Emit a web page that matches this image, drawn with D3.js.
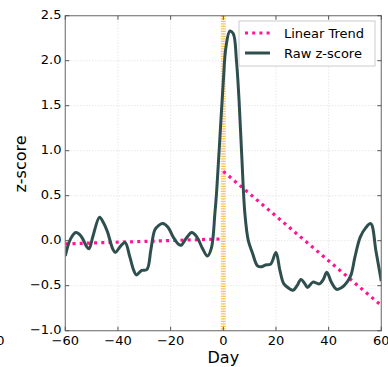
<!DOCTYPE html>
<html><head><meta charset="utf-8">
<script src="https://cdn.jsdelivr.net/npm/d3@7"></script>
<style>body{margin:0;background:#fff;} svg{display:block;font-family:"DejaVu Sans",sans-serif;}</style>
</head><body>
<svg id="c" width="388" height="367"></svg>
<script>
const days = [-60,-58,-56,-54,-52,-51,-49.5,-47,-45.5,-44,-42,-41,-39,-37.3,-35.5,-34,-33,-31,-29,-27.5,-26,-24.5,-23,-21,-19,-17,-16,-14,-12,-10,-8,-6,-4.5,-3.2,-2.5,-1.5,0,1,2.5,3.8,5,6,7,8.2,9.5,11,13,14.5,16,18,20,21.5,23,25,26.5,28,29.5,31,32,34,36.5,38,39.3,41,43,45,47,48.5,50,52,54,56,58,60];
const zscore = [-0.17,0.02,0.09,0.05,-0.06,-0.09,0.05,0.26,0.2,0.1,-0.09,-0.13,-0.06,-0.02,-0.18,-0.33,-0.38,-0.33,-0.32,-0.1,0.12,0.17,0.19,0.15,0.04,-0.04,-0.05,0.03,0.09,0.04,-0.08,-0.17,-0.08,0.3,0.56,1.04,1.77,2.15,2.33,2.3,2.0,1.55,0.95,0.3,0.0,-0.13,-0.28,-0.29,-0.27,-0.26,-0.13,-0.33,-0.48,-0.53,-0.55,-0.5,-0.43,-0.48,-0.52,-0.46,-0.48,-0.43,-0.35,-0.46,-0.54,-0.52,-0.46,-0.38,-0.18,0.04,0.14,0.19,-0.12,-0.45];
const trendPreDays = [-60, 0];
const trendPre = [-0.035, 0.02];
const trendPostDays = [0, 60];
const trendPost = [0.77, -0.72];
const xTicks = [-60,-40,-20,0,20,40,60];
const yTicks = [-1.0,-0.5,0.0,0.5,1.0,1.5,2.0,2.5];
const legendLabels = ["Linear Trend","Raw z-score"];

const svg = d3.select("#c");
const L=65.3,R=381.3,T=15.7,B=330.7;
const x = d3.scaleLinear().domain([-60,60]).range([L,R]);
const y = d3.scaleLinear().domain([-1,2.5]).range([B,T]);
const minus = s => s.replace("-","\u2212");

// grid
const g = svg.append("g");
g.selectAll(".gx").data(xTicks).join("line").attr("x1",d=>x(d)).attr("x2",d=>x(d)).attr("y1",T).attr("y2",B)
 .attr("stroke","#d4d4d4").attr("stroke-width",0.8).attr("stroke-dasharray","1,2");
g.selectAll(".gy").data(yTicks).join("line").attr("y1",d=>y(d)).attr("y2",d=>y(d)).attr("x1",L).attr("x2",R)
 .attr("stroke","#d4d4d4").attr("stroke-width",0.8).attr("stroke-dasharray","1,2");

// orange vertical line at day 0
svg.append("line").attr("x1",x(0)).attr("x2",x(0)).attr("y1",T).attr("y2",B)
 .attr("stroke","#ffa500").attr("stroke-opacity",0.65).attr("stroke-width",5).attr("stroke-dasharray","1.2,1.3");

const line = d3.line().x(d=>x(d[0])).y(d=>y(d[1]));
const dotted = {stroke:"#ff1493", w:3.2, dash:"3,4.2"};
svg.append("path").datum(d3.zip(trendPreDays,trendPre)).attr("d",line).attr("fill","none")
 .attr("stroke",dotted.stroke).attr("stroke-width",dotted.w).attr("stroke-dasharray",dotted.dash);
svg.append("path").datum(d3.zip(trendPostDays,trendPost)).attr("d",line).attr("fill","none")
 .attr("stroke",dotted.stroke).attr("stroke-width",dotted.w).attr("stroke-dasharray",dotted.dash);

const smooth = d3.line().x(d=>x(d[0])).y(d=>y(d[1])).curve(d3.curveCatmullRom.alpha(0.5));
svg.append("clipPath").attr("id","clip").append("rect").attr("x",L).attr("y",T).attr("width",R-L).attr("height",B-T);
svg.append("path").datum(d3.zip(days,zscore)).attr("d",smooth).attr("fill","none").attr("clip-path","url(#clip)")
 .attr("stroke","#2f4f4f").attr("stroke-width",3).attr("stroke-linejoin","round");

// frame
svg.append("rect").attr("x",L).attr("y",T).attr("width",R-L).attr("height",B-T).attr("fill","none").attr("stroke","#808080").attr("stroke-width",1.2);

// ticks (inside, all sides)
const tk = svg.append("g").attr("stroke","#555").attr("stroke-width",1);
xTicks.forEach(d=>{
  tk.append("line").attr("x1",x(d)).attr("x2",x(d)).attr("y1",B).attr("y2",B-4);
  tk.append("line").attr("x1",x(d)).attr("x2",x(d)).attr("y1",T).attr("y2",T+4);
});
yTicks.forEach(d=>{
  tk.append("line").attr("y1",y(d)).attr("y2",y(d)).attr("x1",L).attr("x2",L+4);
  tk.append("line").attr("y1",y(d)).attr("y2",y(d)).attr("x1",R).attr("x2",R-4);
});

// tick labels
svg.selectAll(".xl").data(xTicks).join("text").attr("x",d=>x(d)).attr("y",344.5).attr("text-anchor","middle")
 .attr("font-size",13).attr("fill","#000").text(d=>minus(String(d)));
svg.selectAll(".yl").data(yTicks).join("text").attr("x",61.5).attr("y",d=>y(d)+3.2).attr("text-anchor","end")
 .attr("font-size",13).attr("fill","#000").text(d=>minus(d.toFixed(1)));

// cut-off neighbour label
svg.append("text").attr("x",4.5).attr("y",344.5).attr("text-anchor","end").attr("font-size",13).text("60");

// axis labels
svg.append("text").attr("x",x(0)).attr("y",363).attr("text-anchor","middle").attr("font-size",16).text("Day");
svg.append("text").attr("transform","translate(25.5,164) rotate(-90)").attr("text-anchor","middle").attr("font-size",16).text("z-score");

// legend
const lg = svg.append("g");
lg.append("rect").attr("x",239).attr("y",21).attr("width",136).attr("height",45).attr("fill","#fff").attr("stroke","#cccccc").attr("stroke-width",1);
lg.append("line").attr("x1",245).attr("x2",270).attr("y1",33).attr("y2",33)
 .attr("stroke",dotted.stroke).attr("stroke-width",dotted.w).attr("stroke-dasharray",dotted.dash);
lg.append("line").attr("x1",245).attr("x2",270).attr("y1",53).attr("y2",53).attr("stroke","#2f4f4f").attr("stroke-width",3);
lg.selectAll("text").data(legendLabels).join("text").attr("x",284).attr("y",(d,i)=>37.5+i*20).attr("font-size",13).text(d=>d);
</script>
</body></html>
